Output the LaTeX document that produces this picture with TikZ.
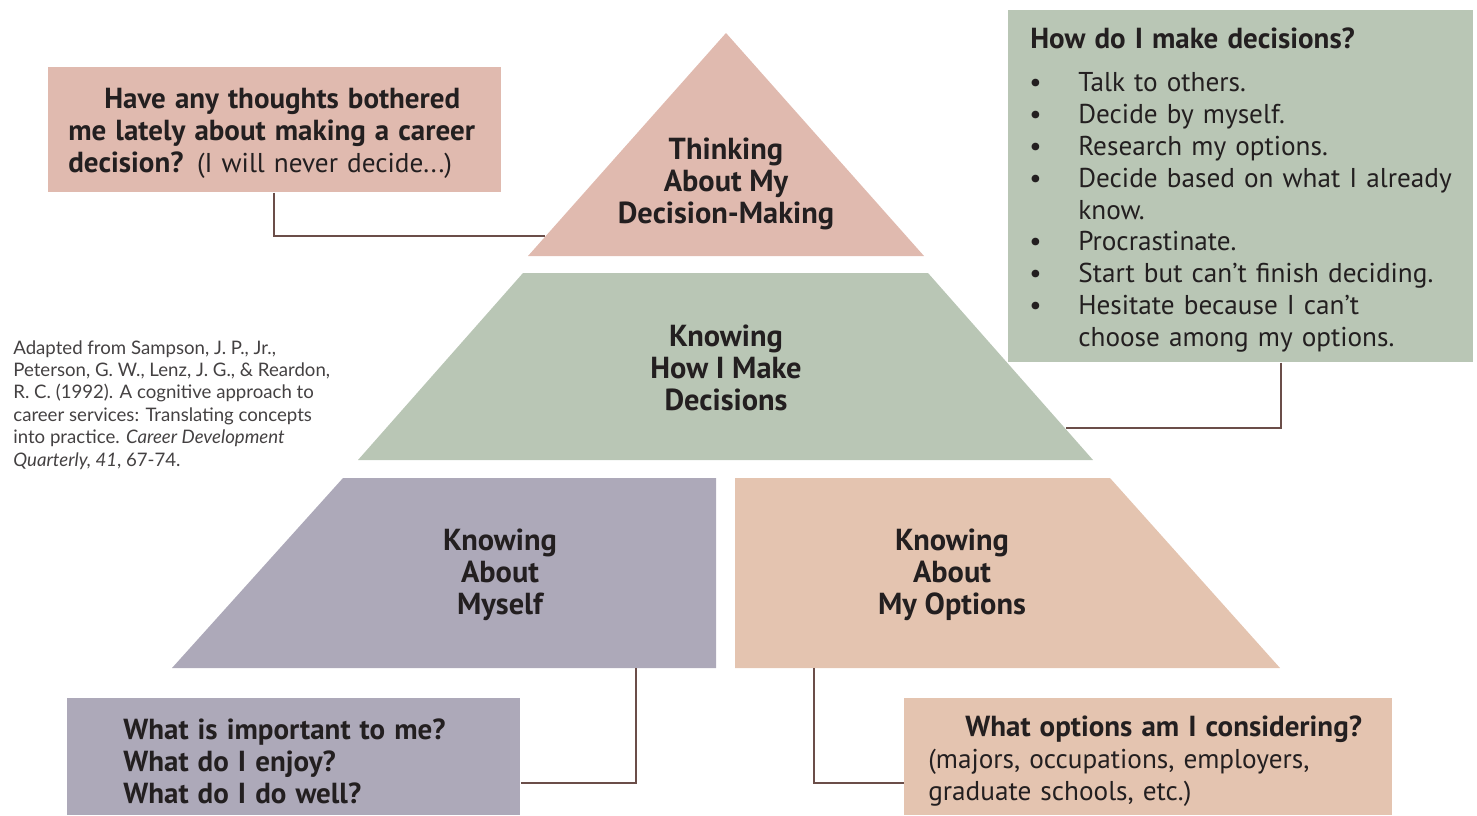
\documentclass[tikz,border=0pt]{standalone}
\usepackage{fontspec}
\setmainfont{PT Sans}
\newfontfamily\citefont{Lato}
\usetikzlibrary{positioning}

\definecolor{thinkpink}{HTML}{E0BAAF}
\definecolor{howgreen}{HTML}{B9C6B5}
\definecolor{selfgray}{HTML}{ADA9B9}
\definecolor{optpeach}{HTML}{E4C4B0}
\definecolor{linkbrown}{HTML}{6B4E49}
\definecolor{inkgray}{HTML}{231F20}

\newcommand\qbold[1]{{\fontsize{16.5}{18.1}\selectfont\bfseries #1}}
\newcommand\bitem{\hspace*{0.2cm}\makebox[0.98cm][l]{\textbullet}}
\newcommand\topgap[1]{\rule{0pt}{#1}}

\begin{document}
\begin{tikzpicture}[
  x=0.02cm, y=-0.02cm,
  layer/.style={font=\bfseries\fontsize{17.3}{18.1}\selectfont, align=center, text=inkgray},
  qbox/.style={inner ysep=0pt, font=\fontsize{15.5}{18.1}\selectfont, align=left, text=inkgray, anchor=north west},
  link/.style={draw=linkbrown, line width=1.2pt}
  ]
	\useasboundingbox (0,0) rectangle (1477,815);

	% pyramid
	\fill[thinkpink] (726,33) -- (924,256) -- (528,256) -- cycle;
	\fill[howgreen] (523,273) -- (928,273) -- (1093,460) -- (358,460) -- cycle;
	\fill[selfgray] (343,478) -- (716,478) -- (716,668) -- (172,668) -- cycle;
	\fill[optpeach] (735,478) -- (1110,478) -- (1280,668) -- (735,668) -- cycle;

	\node[layer] (think) at (726,184) {Thinking\\About My\\Decision-Making};
	\node[layer] (how) at (726,368) {Knowing\\How I Make\\Decisions};
	\node[layer] (self) at (500,575) {Knowing\\About\\Myself};
	\node[layer] (options) at (952,575) {Knowing\\About\\My Options};

	% question boxes
	\node[qbox, fill=thinkpink, inner xsep=0.4cm, text width=8.26cm, minimum height=2.5cm] (thoughts) at (48,67)
		{\topgap{15.8pt}\hspace*{0.72cm}\qbold{Have any thoughts bothered}\\\qbold{me lately about making a career}\\\qbold{decision?} (I will never decide...)};
	\node[qbox, fill=howgreen, inner xsep=0.22cm, text width=8.86cm, minimum height=7.04cm] (styles) at (1008,10)
		{\topgap{16pt}\hspace*{0.22cm}\qbold{How do I make decisions?}\\[6.5pt]
		\bitem Talk to others.\\
		\bitem Decide by myself.\\
		\bitem Research my options.\\
		\bitem Decide based on what I already\\
		\hspace*{1.18cm}know.\\
		\bitem Procrastinate.\\
		\bitem Start but can't finish deciding.\\
		\bitem Hesitate because I can't\\
		\hspace*{1.18cm}choose among my options.};
	\node[qbox, fill=selfgray, inner xsep=1.12cm, text width=6.82cm, minimum height=2.34cm] (values) at (67,698)
		{\topgap{17pt}\qbold{What is important to me?}\\\qbold{What do I enjoy?}\\\qbold{What do I do well?}};
	\node[qbox, fill=optpeach, inner xsep=0.48cm, text width=8.8cm, minimum height=2.34cm] (considering) at (904,698)
		{\topgap{17pt}\hspace*{0.74cm}\qbold{What options am I considering?}\\(majors, occupations, employers,\\graduate schools, etc.)};

	\node[anchor=north west, inner sep=0pt, align=left, text=inkgray!85, font=\citefont\fontsize{10.6}{12.75}\selectfont] (source) at (13,340)
		{Adapted from Sampson, J. P., Jr.,\\Peterson, G. W., Lenz, J. G., \& Reardon,\\R. C. (1992). A cognitive approach to\\career services: Translating concepts\\into practice. \textit{Career Development}\\\textit{Quarterly, 41}, 67-74.};

	% connectors
	\coordinate (thinkside) at (545,236);
	\coordinate (howside) at (1066,428);
	\coordinate (selffoot) at (636,668);
	\coordinate (optfoot) at (814,668);

	\draw[link] ([xshift=4.52cm]thoughts.south west) |- (thinkside);
	\draw[link] ([xshift=-3.86cm]styles.south east) |- (howside);
	\draw[link] (selffoot) |- ([yshift=0.66cm]values.south east);
	\draw[link] (optfoot) |- ([yshift=0.66cm]considering.south west);
\end{tikzpicture}
\end{document}
